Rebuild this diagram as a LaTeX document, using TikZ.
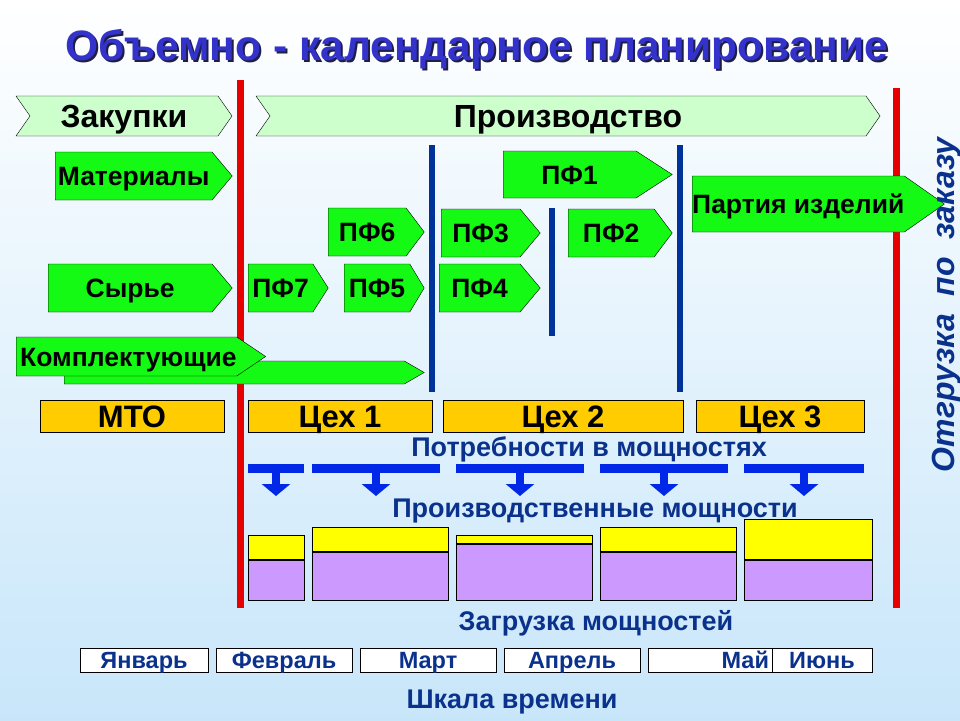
\documentclass[tikz,border=0pt]{standalone}
\usepackage{fontspec}
\setmainfont{Liberation Sans}
\usetikzlibrary{positioning,shapes.symbols,arrows.meta}
\definecolor{bgtop}{RGB}{255,255,255}
\definecolor{bgbottom}{RGB}{200,230,250}
\definecolor{bannergreen}{RGB}{204,255,204}
\definecolor{partgreen}{RGB}{20,250,20}
\definecolor{shoporange}{RGB}{255,204,0}
\definecolor{reserveyellow}{RGB}{255,255,0}
\definecolor{loadviolet}{RGB}{204,153,255}
\definecolor{needblue}{RGB}{0,40,230}
\definecolor{navy}{RGB}{0,51,153}
\definecolor{textblue}{RGB}{10,50,140}
\definecolor{titleblue}{RGB}{51,51,204}
\definecolor{titleshadow}{RGB}{30,30,70}
\definecolor{redline}{RGB}{230,0,0}
\tikzset{
	plan/.style={
		x=1pt,y=-1pt,
		font=\bfseries
	},
	banner/.style={
		signal,
		signal from=west,
		signal to=east,
		signal pointer angle=110,
		draw=black,
		fill=bannergreen,
		minimum height=40pt,
		inner sep=0pt,
		text height=23pt,text depth=0pt, % centre on capitals
		font=\bfseries\fontsize{32}{34}\selectfont
	},
	part/.style={
		signal,
		signal to=east,
		signal pointer angle=100,
		draw=black,
		fill=partgreen,
		anchor=west,
		minimum height=48pt,
		inner sep=0pt,
		text height=19pt,text depth=0pt,
		font=\bfseries\fontsize{26.5}{28}\selectfont
	},
	shop/.style={
		rectangle,
		draw=black,
		fill=shoporange,
		minimum height=32pt,
		inner sep=0pt,
		text height=22pt,text depth=0pt,
		font=\bfseries\fontsize{31}{33}\selectfont
	},
	month/.style={
		rectangle,
		draw=black,
		fill=white,
		minimum height=24pt,
		inner sep=0pt,
		text height=17pt,text depth=0pt,
		text=textblue,
		font=\bfseries\fontsize{23.5}{25}\selectfont
	},
	caption/.style={
		inner sep=0pt,
		text height=19.5pt,text depth=0pt,
		text=textblue,
		font=\bfseries\fontsize{27}{29}\selectfont
	},
	milestone/.style={draw=redline,line width=7pt},
	stage/.style={draw=navy,line width=6pt},
	need bar/.style={
		fill=needblue,
		inner sep=0pt,
		minimum height=9pt
	},
	need arrow/.style={
		draw=needblue,
		line width=8pt,
		-{Triangle[width=28pt,length=12pt]}
	},
	reserve part/.style={draw=black,fill=reserveyellow,inner sep=0pt},
	load part/.style={draw=black,fill=loadviolet,inner sep=0pt}
}
\begin{document}
\begin{tikzpicture}[plan]
	\fill[top color=bgtop,bottom color=bgbottom] (0,0) rectangle (960,720);
	\useasboundingbox (0,0) rectangle (960,720);
	% title
	\node[text=titleshadow,font=\bfseries\fontsize{42.5}{44}\selectfont] (title shadow) at (479,51) {Объемно - календарное планирование};
	\node[text=titleblue,font=\bfseries\fontsize{42.5}{44}\selectfont] (title) at (477,49) {Объемно - календарное планирование};
	% stages
	\node[banner,minimum width=216pt] (purchase) at (124,116) {Закупки};
	\node[banner,minimum width=624pt] (production) at (568,116) {Производство};
	% vertical borders
	\draw[milestone] (240,80) -- (240,608);
	\draw[milestone] (896,88) -- (896,608);
	\draw[stage] (432,145) -- (432,392);
	\draw[stage] (552,208) -- (552,336);
	\draw[stage] (680,145) -- (680,392);
	% purchased items
	\node[part,minimum width=360pt,minimum height=23pt,signal pointer angle=60] (parts line) at (64,372.5) {};
	\node[part,minimum width=177pt] (materials) at (55,176) {Материалы};
	\node[part,minimum width=184pt] (raw) at (48,288) {Сырье};
	\node[part,minimum width=240pt,minimum height=39pt,signal pointer angle=68] (parts) at (16,356.5) {\hspace*{4pt}Комплектующие};
	% semi-finished products
	\node[part,minimum width=80pt,signal pointer angle=115] (pf7) at (248,288) {ПФ7};
	\node[part,minimum width=96pt,signal pointer angle=106] (pf6) at (328,232) {ПФ6};
	\node[part,minimum width=80pt,signal pointer angle=118] (pf5) at (344,288) {ПФ5};
	\node[part,minimum width=99pt] (pf3) at (441,233) {ПФ3};
	\node[part,minimum width=101pt] (pf4) at (439,288) {ПФ4};
	\node[part,minimum width=169pt,minimum height=47pt,signal pointer angle=66] (pf1) at (503,174.5) {ПФ1};
	\node[part,minimum width=104pt,signal pointer angle=106] (pf2) at (568,233) {ПФ2};
	\node[part,minimum width=239pt,minimum height=56pt,signal pointer angle=70] (batch) at (692,204) {Партия изделий};
	% shops
	\node[shop,minimum width=184pt] (mto) at (132,416) {МТО};
	\node[shop,minimum width=184pt] (shop1) at (340,416) {Цех 1};
	\node[shop,minimum width=240pt] (shop2) at (563,416) {Цех 2};
	\node[shop,minimum width=168pt] (shop3) at (780,416) {Цех 3};
	% capacities
	\node[caption] (needs) at (589,446.5) {Потребности в мощностях};
	\foreach \i/\x/\w in {1/276/56,2/376/128,3/520/128,4/664/128,5/804/120}{
		\node[need bar,minimum width=\w pt] (need\i) at (\x,468) {};
		\coordinate (need tip\i) at (\x,496);
		\draw[need arrow] (need\i.south) -- (need tip\i);
	}
	\node[caption] (capacity) at (595,507.5) {Производственные мощности};
	\foreach \i/\x/\w/\t/\d in {1/276/56/536/560,2/380/136/528/552,3/524/136/536/544,4/668/136/528/552,5/808/128/520/560}{
		\node[load part,minimum width=\w pt,minimum height={(600-\d)*1pt}] (load\i) at (\x,{(600+\d)/2}) {};
		\node[reserve part,anchor=south,minimum width=\w pt,minimum height={(\d-\t)*1pt}] (reserve\i) at (load\i.north) {};
	}
	\node[caption] (loading) at (596,620.5) {Загрузка мощностей};
	% time scale
	\node[month,minimum width=128pt] (jan) at (144,660) {Январь};
	\node[month,minimum width=136pt] (feb) at (284,660) {Февраль};
	\node[month,minimum width=136pt] (mar) at (428,660) {Март};
	\node[month,minimum width=136pt] (apr) at (572,660) {Апрель};
	\node[month,text width=118pt,inner xsep=3pt,align=right] (may) at (710,660) {Май};
	\node[month,minimum width=100pt] (jun) at (822,660) {Июнь};
	\node[caption] (timescale) at (512,698.5) {Шкала времени};
	\node[rotate=90,text=textblue,text height=23pt,text depth=0pt,font=\bfseries\itshape\fontsize{32}{34}\selectfont] (shipment) at (943,305) {Отгрузка\ \ по\ \ заказу};
\end{tikzpicture}
\end{document}
